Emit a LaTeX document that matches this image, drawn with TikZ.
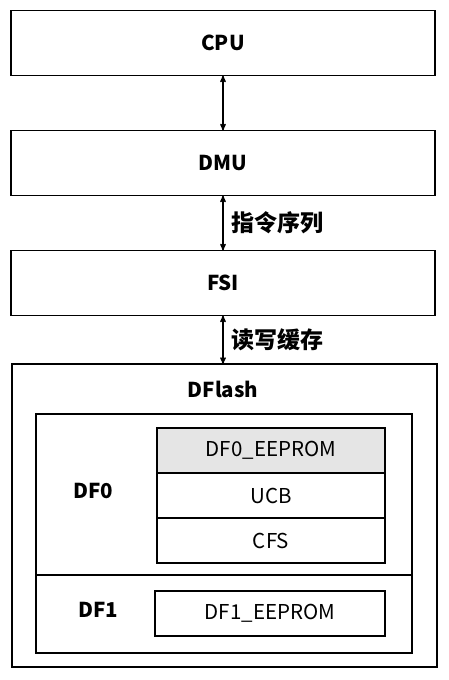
\documentclass[tikz,border=0pt]{standalone}
\usepackage{fontspec}
\setmainfont{Noto Sans CJK SC}
\usetikzlibrary{arrows,positioning}
\tikzset{
    %Define standard arrow tip
    >=stealth',
    %Define style for boxes
    unit/.style={
           rectangle,
           draw=black, line width=1.5pt,
           outer sep=0pt,
           minimum width=424pt,
           minimum height=65pt,
           font=\fontsize{20.5}{24}\selectfont\bfseries,
           text centered},
    region/.style={
           rectangle,
           draw=black, line width=1.5pt,
           outer sep=0pt,
           inner sep=0pt},
    cell/.style={
           rectangle,
           draw=black, line width=1.5pt,
           outer sep=0pt,
           minimum width=228pt,
           minimum height=45pt,
           font=\fontsize{20.5}{24}\selectfont,
           text centered},
    tag/.style={
           font=\fontsize{20.5}{24}\selectfont\bfseries},
    % Define arrow style
    bus/.style={
           <->,
           line width=1.3pt},
    buslabel/.style={
           right, xshift=5pt,
           font=\fontsize{23}{26}\selectfont\bfseries}
}
\begin{document}
\begin{tikzpicture}[x=1pt,y=1pt]
\useasboundingbox (0,0) rectangle (449,-680);
 %nodes
\node[unit] (cpu) at (223,-43) {CPU};
\node[unit, below=55pt of cpu] (dmu) {DMU};
\node[unit, below=55pt of dmu] (fsi) {FSI};
\node[region, minimum width=425pt, minimum height=303pt] (dflash) at (224.5,-515.5) {};
\node[tag] (dflashlabel) at (223,-389) {DFlash};
\node[region, minimum width=376pt, minimum height=161pt] (df0) at (224,-494.5) {};
\node[region, minimum width=376pt, minimum height=78pt, below=0pt of df0] (df1) {};
\node[tag] (df0label) at (93,-491) {DF0};
\node[tag] (df1label) at (98,-610) {DF1};
\node[cell, fill=black!10] (eeprom0) at (271,-450.5) {DF0\_EEPROM};
\node[cell, below=0pt of eeprom0] (ucb) {UCB};
\node[cell, below=0pt of ucb] (cfs) {CFS};
\node[cell, minimum width=230pt] (eeprom1) at (270,-613.5) {DF1\_EEPROM};
 %arrows
\path[bus]
    (cpu) edge (dmu)
    (dmu) edge node[buslabel] {指令序列} (fsi)
    (fsi.south) edge node[buslabel] {读写缓存} (fsi.south |- dflash.north);
\end{tikzpicture}
\end{document}
